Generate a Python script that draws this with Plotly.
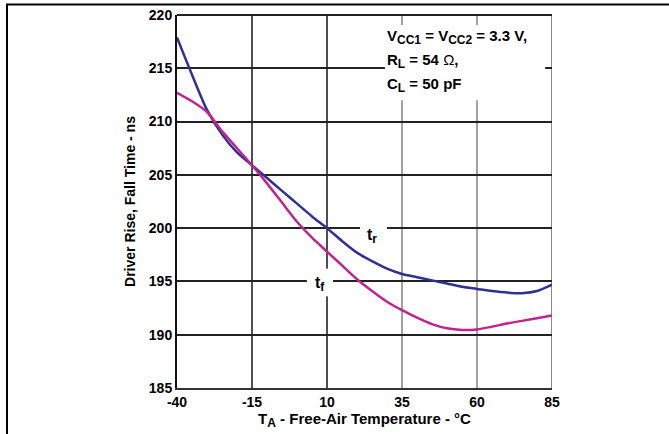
import plotly.graph_objects as go

# ---- data ----
temperature_c = [-40, -35, -30, -25, -20, -15, -10, -5, 0, 5, 10, 15, 20, 25, 30,
                 35, 40, 45, 50, 55, 60, 65, 70, 75, 80, 85]
rise_time_ns = [217.9, 214.4, 211.1, 208.8, 207.1, 205.9, 204.7, 203.5, 202.3, 201.1,
                200.0, 198.8, 197.7, 196.9, 196.2, 195.7, 195.4, 195.1, 194.8, 194.5,
                194.3, 194.1, 193.95, 193.9, 194.1, 194.7]
fall_time_ns = [212.7, 211.9, 210.9, 209.1, 207.5, 205.9, 204.2, 202.4, 200.6, 199.1,
                197.8, 196.5, 195.2, 194.1, 193.1, 192.3, 191.6, 191.0, 190.6, 190.45,
                190.5, 190.75, 191.05, 191.3, 191.55, 191.8]
x_ticks = [-40, -15, 10, 35, 60, 85]
y_ticks = [185, 190, 195, 200, 205, 210, 215, 220]

FONT = "Liberation Sans, Arial, sans-serif"
BLUE = "#2e3192"
PINK = "#c0248f"

L, T = 177, 15
PW, PH = 375, 373
W, H = 669, 434


def px_x(p):
    return (p - L) / PW


def px_y(p):
    return (T + PH - p) / PH


fig = go.Figure()
fig.add_trace(go.Scatter(x=temperature_c, y=rise_time_ns, mode="lines",
                         line=dict(color=BLUE, width=2.5, shape="spline", smoothing=0.8),
                         showlegend=False, hoverinfo="skip"))
fig.add_trace(go.Scatter(x=temperature_c, y=fall_time_ns, mode="lines",
                         line=dict(color=PINK, width=2.5, shape="spline", smoothing=0.8),
                         showlegend=False, hoverinfo="skip"))

shapes = []
for xv, col in [(-15, "#222222"), (10, "#222222"), (35, "#8a8a8a"), (60, "#8a8a8a"), (85, "#8a8a8a")]:
    shapes.append(dict(type="line", xref="x", yref="paper", x0=xv, x1=xv, y0=0, y1=1,
                       line=dict(color=col, width=1.6 if xv != 85 else 2), layer="below"))
shapes.append(dict(type="rect", xref="x", yref="y", x0=29.3, x1=82.7, y0=212.0, y1=219.05,
                   fillcolor="white", line=dict(width=0), layer="above"))
shapes.append(dict(type="rect", xref="x", yref="y", x0=21.0, x1=30.0, y0=198.1, y1=200.6,
                   fillcolor="white", line=dict(width=0), layer="above"))
shapes.append(dict(type="rect", xref="x", yref="y", x0=3.3, x1=12.0, y0=193.6, y1=196.2,
                   fillcolor="white", line=dict(width=0), layer="above"))
# outer page frame
shapes.append(dict(type="line", xref="paper", yref="paper", x0=px_x(6), x1=px_x(669), y0=px_y(4.5), y1=px_y(4.5),
                   line=dict(color="black", width=2), layer="above"))
shapes.append(dict(type="line", xref="paper", yref="paper", x0=px_x(7), x1=px_x(7), y0=px_y(4), y1=px_y(434),
                   line=dict(color="black", width=2), layer="above"))
shapes.append(dict(type="line", xref="paper", yref="paper", x0=0, x1=1, y0=1, y1=1,
                   line=dict(color="#222222", width=2)))

SUB = "<sub><span style='font-size:12px'>%s</span></sub>"
annotations = [
    dict(text="<b>V" + SUB % "CC1" + " = V" + SUB % "CC2" + " = 3.3 V,</b>", x=px_x(385), y=px_y(37),
         xref="paper", yref="paper", xanchor="left", yanchor="middle", showarrow=False,
         font=dict(family=FONT, size=15, color="black")),
    dict(text="<b>R" + SUB % "L" + " = 54 </b>Ω<b>,</b>", x=px_x(385), y=px_y(61),
         xref="paper", yref="paper", xanchor="left", yanchor="middle", showarrow=False,
         font=dict(family=FONT, size=15, color="black")),
    dict(text="<b>C" + SUB % "L" + " = 50 pF</b>", x=px_x(385), y=px_y(85),
         xref="paper", yref="paper", xanchor="left", yanchor="middle", showarrow=False,
         font=dict(family=FONT, size=15, color="black")),
    dict(text="<b>t" + SUB % "r" + "</b>", x=25.0, y=199.3, xref="x", yref="y", xanchor="center",
         yanchor="middle", showarrow=False, font=dict(family=FONT, size=16, color="black")),
    dict(text="<b>t" + SUB % "f" + "</b>", x=7.5, y=194.8, xref="x", yref="y", xanchor="center",
         yanchor="middle", showarrow=False, font=dict(family=FONT, size=16, color="black")),
]

fig.update_layout(
    width=W, height=H,
    margin=dict(l=L, r=W - L - PW, t=T, b=H - T - PH, autoexpand=False),
    paper_bgcolor="white", plot_bgcolor="white",
    font=dict(family=FONT, color="black"),
    shapes=shapes, annotations=annotations,
    xaxis=dict(range=[-40, 85], tickvals=x_ticks, ticktext=[str(v) for v in x_ticks],
               showgrid=False, zeroline=False, showline=True, linecolor="#333333", linewidth=2,
               ticks="", tickfont=dict(family=FONT, size=14, weight="bold", color="black"),
               title=dict(text="<b>T" + SUB % "A" + " - Free-Air Temperature - °C</b>",
                          font=dict(family=FONT, size=15, color="black"), standoff=2)),
    yaxis=dict(range=[185, 220], tickvals=y_ticks, ticktext=[str(v) for v in y_ticks],
               showgrid=True, gridcolor="#222222", gridwidth=1.6, zeroline=False,
               showline=True, linecolor="#111111", linewidth=2, ticks="",
               tickfont=dict(family=FONT, size=14, weight="bold", color="black"),
               title=dict(text="<b>Driver Rise, Fall Time - ns</b>",
                          font=dict(family=FONT, size=14, color="black"), standoff=10)),
)

fig.write_html("out.html", config={"displayModeBar": False},
               post_script="document.body.style.margin='0';")
